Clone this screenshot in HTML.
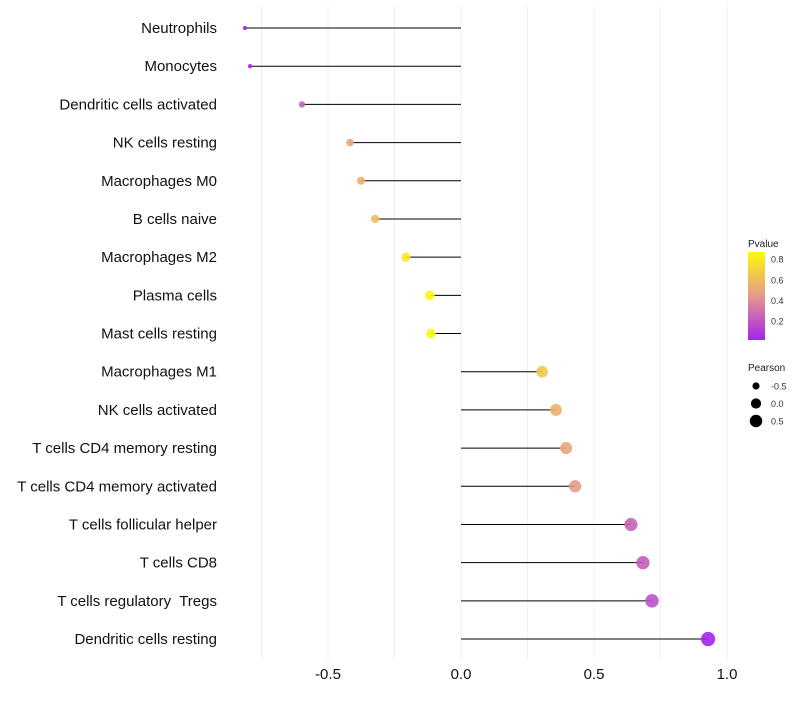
<!DOCTYPE html>
<html><head><meta charset="utf-8"><style>
body{margin:0;background:#fff;font-family:"Liberation Sans",sans-serif}
text{white-space:pre}
</style></head><body>
<svg id="chart" width="800" height="700" xmlns="http://www.w3.org/2000/svg" font-family="Liberation Sans, sans-serif"></svg>
<script>
const categories=["Neutrophils","Monocytes","Dendritic cells activated","NK cells resting","Macrophages M0","B cells naive","Macrophages M2","Plasma cells","Mast cells resting","Macrophages M1","NK cells activated","T cells CD4 memory resting","T cells CD4 memory activated","T cells follicular helper","T cells CD8","T cells regulatory  Tregs","Dendritic cells resting"];
const pearson=[-0.812,-0.793,-0.598,-0.417,-0.376,-0.323,-0.207,-0.117,-0.113,0.305,0.357,0.395,0.429,0.639,0.684,0.718,0.929];
const pvalues=[0.02,0.03,0.25,0.5,0.55,0.6,0.78,0.86,0.86,0.65,0.55,0.5,0.45,0.25,0.22,0.18,0.02];
const xTicks=[-0.5,0,0.5,1.0];
const xTickLabels=["-0.5","0.0","0.5","1.0"];
const xGrid=[-0.75,-0.5,-0.25,0,0.25,0.5,0.75,1.0];
const legendP=[0.2,0.4,0.6,0.8];
const legendPearson=[-0.5,0,0.5];

const svg=document.getElementById('chart');
const NS='http://www.w3.org/2000/svg';
const x=v=>461+v*266;
const y=i=>28+i*38.19;
const r=v=>Math.sqrt(Math.max(2,26+26.5*v));
function col(p){
  const stops=[[0,[160,32,240]],[0.45,[231,154,138]],[0.9,[255,255,0]]];
  p=Math.max(0,Math.min(0.9,p));
  for(let k=0;k<stops.length-1;k++){const[a,ca]=stops[k],[b,cb]=stops[k+1];
    if(p<=b){const t=(p-a)/(b-a);return 'rgb('+ca.map((c,j)=>Math.round(c+(cb[j]-c)*t)).join(',')+')';}}
}
function mk(tag,attrs,parent){const e=document.createElementNS(NS,tag);for(const k in attrs)e.setAttribute(k,attrs[k]);(parent||svg).appendChild(e);return e;}

xGrid.forEach(g=>{const l=mk('line',{x1:x(g),x2:x(g),y1:5,y2:660,stroke:'#f0f0f0','stroke-width':1});

});
xTicks.forEach((t,i)=>{const tx=mk('text',{x:x(t),y:679,'text-anchor':'middle','font-size':15,fill:'#111'});tx.textContent=xTickLabels[i];

});
categories.forEach((c,i)=>{
  const lab=mk('text',{x:217,y:y(i)+5,'text-anchor':'end','font-size':15,fill:'#111'});lab.textContent=c;
  
  
  const ln=mk('line',{x1:x(0),x2:x(pearson[i]),y1:y(i),y2:y(i),stroke:'#000','stroke-width':1});
  
  
  const pt=mk('circle',{cx:x(pearson[i]),cy:y(i),r:r(pearson[i]),fill:col(pvalues[i]),'fill-opacity':0.9});
  
  
});
// legend
const defs=mk('defs',{});const lg=mk('linearGradient',{id:'pg',x1:0,y1:1,x2:0,y2:0},defs);
for(let s=0;s<=10;s++){const p=0.016+s*(0.874-0.016)/10;mk('stop',{offset:s/10,'stop-color':col(p)},lg);}
const lt=mk('text',{x:748,y:247,'font-size':10,fill:'#222'});lt.textContent='Pvalue';


const bar=mk('rect',{x:748,y:252,width:17,height:88,fill:'url(#pg)'});


const ly=p=>340-(p-0.016)*103;
legendP.forEach(p=>{const t=mk('text',{x:771,y:ly(p)+3.5,'font-size':9,fill:'#333'});t.textContent=p.toFixed(1);

});
const st=mk('text',{x:748,y:371,'font-size':10,fill:'#222'});st.textContent='Pearson';


legendPearson.forEach((v,i)=>{const cy=386+i*17.5;
  const c=mk('circle',{cx:756,cy:cy,r:r(v),fill:'#000'});
  
  
  const t=mk('text',{x:771,y:cy+3.5,'font-size':9,fill:'#333'});t.textContent=v===0?'0.0':String(v);
  
  });
</script>
</body></html>
